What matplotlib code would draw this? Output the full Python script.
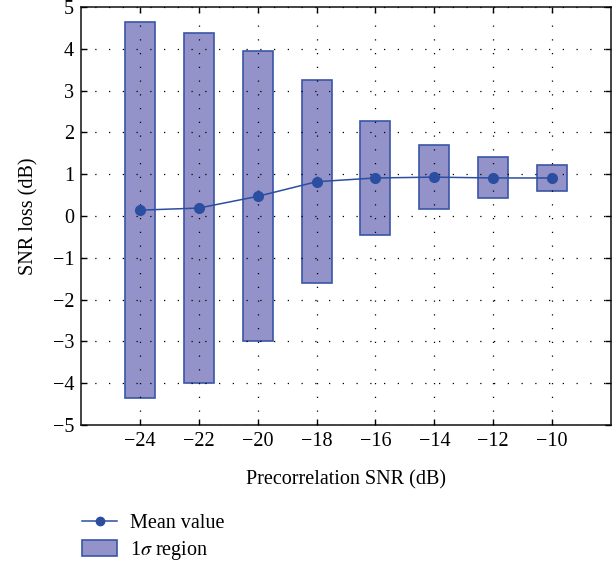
import matplotlib
matplotlib.use("Agg")
import matplotlib.pyplot as plt
from matplotlib.patches import Patch
from matplotlib.lines import Line2D
import numpy as np

plt.rcParams['font.family'] = ['Liberation Serif', 'DejaVu Serif']
plt.rcParams['mathtext.fontset'] = 'stix'

# Precorrelation SNR levels (dB)
snr_db = [-24, -22, -20, -18, -16, -14, -12, -10]
# Mean SNR loss (dB) and its standard deviation
mean_loss = [0.14, 0.19, 0.47, 0.82, 0.91, 0.93, 0.91, 0.91]
sigma_loss = [4.49, 4.19, 3.47, 2.43, 1.36, 0.77, 0.49, 0.30]

xticks = [-24, -22, -20, -18, -16, -14, -12, -10]
yticks = [-5, -4, -3, -2, -1, 0, 1, 2, 3, 4, 5]

face = '#9393c9'
edge = '#3a55a8'
line_c = '#2b4ea0'

fig = plt.figure(figsize=(6.16, 5.65), dpi=100)
ax = fig.add_axes([81 / 616, 1 - 425 / 565, 530 / 616, 418 / 565])

mean = np.array(mean_loss)
sig = np.array(sigma_loss)
ax.bar(snr_db, 2 * sig, bottom=mean - sig, width=1.02, color=face,
       edgecolor=edge, linewidth=1.2, zorder=2)
ax.plot(snr_db, mean_loss, color=line_c, lw=1.1, marker='o', ms=7,
        markeredgecolor=line_c, markerfacecolor=line_c, zorder=4)

ax.set_xlim(-26, -8)
ax.set_ylim(-5, 5)
ax.set_xticks(xticks)
ax.set_yticks(yticks)
ax.set_xticklabels([f'\u2212{abs(v)}' for v in xticks])
ax.set_yticklabels([(f'\u2212{abs(v)}' if v < 0 else str(v)) for v in yticks])
ax.grid(True, color='black', linestyle=(0, (1, 10)), linewidth=0.9, zorder=3)
ax.set_axisbelow(False)
ax.tick_params(direction='in', top=True, right=True, length=4, width=1,
               labelsize=14.5, pad=5)
for s in ax.spines.values():
    s.set_linewidth(1.2)
    s.set_color('#222222')

ax.set_xlabel('Precorrelation SNR (dB)', fontsize=14.5, labelpad=14)
ax.set_ylabel('SNR loss (dB)', fontsize=14.5, labelpad=10)

handles = [
    Line2D([0], [0], color=line_c, lw=1.1, marker='o', ms=6,
           markerfacecolor=line_c, markeredgecolor=line_c),
    Patch(facecolor=face, edgecolor=edge, linewidth=1.2),
]
fig.legend(handles, ['Mean value', r'1$\sigma$ region'], loc='upper left',
           bbox_to_anchor=(74 / 616, 1 - 505 / 565), frameon=False,
           fontsize=14.5, handlelength=1.75, handleheight=0.85,
           handletextpad=0.65, labelspacing=0.3, borderaxespad=0)

fig.savefig('out.png', dpi=100)
